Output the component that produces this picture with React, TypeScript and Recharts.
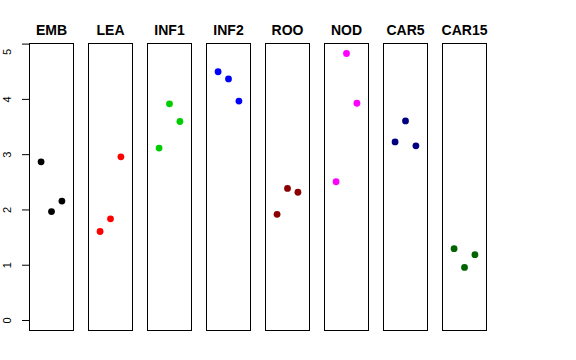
import React from 'react';
import { ScatterChart, Scatter, XAxis, YAxis } from 'recharts';

// panel names, colours and the three values in each panel
const panels = ['EMB', 'LEA', 'INF1', 'INF2', 'ROO', 'NOD', 'CAR5', 'CAR15'];
const colors = ['#000000', '#FF0000', '#00CD00', '#0000FF', '#8B0000', '#FF00FF', '#000080', '#006400'];
const values = [
  [2.87, 1.97, 2.16],
  [1.61, 1.84, 2.96],
  [3.12, 3.92, 3.6],
  [4.5, 4.37, 3.97],
  [1.92, 2.39, 2.32],
  [2.51, 4.83, 3.93],
  [3.23, 3.61, 3.16],
  [1.3, 0.96, 1.19],
];
const positions = [1, 2, 3];
const yTicks = [0, 1, 2, 3, 4, 5];

const Y_DOMAIN: [number, number] = [-0.19, 5.02];
const X_DOMAIN: [number, number] = [-0.16, 4.16];
const PANEL_W = 45;
const PANEL_H = 288;
const TOP = 43;
const FIRST_LEFT = 29;
const STEP = 59;
const AXIS_W = 29;

const font = '"Liberation Sans", Arial, Helvetica, sans-serif';

const RotTick = ({ x, y, payload }: any) => (
  <text
    x={x - 9}
    y={y}
    transform={`rotate(-90, ${x - 9}, ${y})`}
    textAnchor="middle"
    fontSize={11}
    fontFamily={font}
    fill="#000"
  >
    {payload.value}
  </text>
);

const Panel = ({ idx }: { idx: number }) => {
  const first = idx === 0;
  const left = FIRST_LEFT + idx * STEP;
  const data = positions.map((x, i) => ({ x, y: values[idx][i] }));
  const color = colors[idx];
  return (
    <>
      <div
        style={{
          position: 'absolute',
          left: first ? 0 : left,
          top: TOP,
        }}
      >
        <ScatterChart
          width={first ? AXIS_W + PANEL_W : PANEL_W}
          height={PANEL_H}
          margin={{ top: 0, right: 0, bottom: 0, left: 0 }}
        >
          <XAxis type="number" dataKey="x" domain={X_DOMAIN} hide allowDataOverflow />
          <YAxis
            type="number"
            dataKey="y"
            domain={Y_DOMAIN}
            ticks={yTicks}
            hide={!first}
            width={AXIS_W}
            axisLine={false}
            tickSize={7}
            tickLine={{ stroke: '#000' }}
            tick={<RotTick />}
            allowDataOverflow
          />
          <Scatter
            data={data}
            isAnimationActive={false}
            shape={(p: any) => <circle cx={p.cx} cy={p.cy} r={3.4} fill={color} />}
          />
        </ScatterChart>
      </div>
      <div
        style={{
          position: 'absolute',
          left,
          top: TOP,
          width: PANEL_W,
          height: PANEL_H,
          border: '1px solid #000',
          boxSizing: 'border-box',
          pointerEvents: 'none',
        }}
      />
      <div
        style={{
          position: 'absolute',
          left: left - 10,
          top: 22,
          width: PANEL_W + 20,
          height: 16,
          lineHeight: '16px',
          textAlign: 'center',
          fontFamily: font,
          fontWeight: 'bold',
          fontSize: 14,
          whiteSpace: 'nowrap',
          color: '#000',
        }}
      >
        {panels[idx]}
      </div>
    </>
  );
};

export default function App() {
  return (
    <div style={{ position: 'absolute', left: 0, top: 0, width: 576, height: 360, background: '#fff' }}>
      {panels.map((_, i) => (
        <Panel key={i} idx={i} />
      ))}
    </div>
  );
}
